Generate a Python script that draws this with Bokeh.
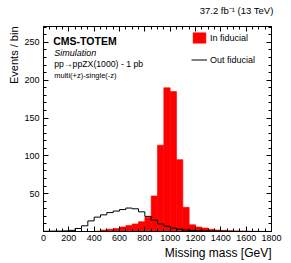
import numpy as np
from bokeh.plotting import figure
from bokeh.models import (Range1d, LinearAxis, FixedTicker, Label, Legend, LegendItem,
                          ColumnDataSource, Title, CustomLabelingPolicy)
from bokeh.embed import file_html
from bokeh.resources import INLINE

# ---------------- data ----------------
bin_width = 50
bin_low = list(range(0, 1800, 50))
in_fiducial = [0, 0, 0, 0, 0, 0, 0, 0, 0.5, 2, 3, 4, 6, 8, 10, 13, 19, 47, 114, 190,
               185, 95, 32, 9, 6, 4.5, 3, 2, 1.5, 1, 0.7, 0.5, 0.3, 0.2, 0.1, 0.1]
out_fiducial = [0.3, 0.5, 0.5, 0.8, 1.5, 4, 7.5, 14, 19, 22, 25, 27, 29, 31, 30, 26, 20,
                15, 10, 7, 4.5, 3, 2, 1.5, 1, 0.8, 0.6, 0.5, 0.4, 0.3, 0.2, 0.2, 0.1,
                0.1, 0, 0]
x_ticks = [0, 200, 400, 600, 800, 1000, 1200, 1400, 1600, 1800]
y_ticks = [50, 100, 150, 200, 250]
x_max = 1800
y_max = 271

FONT = "Liberation Sans"

# frame geometry in page pixels (used for text placement only)
FL, FR, FT, FB = 43, 276, 22, 231
def fx(px):
    return (px - FL) / (FR - FL) * x_max
def fy(py):
    return (FB - py) / (FB - FT) * y_max

p = figure(width=289, height=261, output_backend="svg", toolbar_location=None,
           x_range=Range1d(0, x_max), y_range=Range1d(0, y_max),
           min_border_left=FL, min_border_right=289 - FR, min_border_top=FT,
           min_border_bottom=261 - FB)
p.background_fill_color = "white"
p.border_fill_color = "white"
p.outline_line_color = "black"
p.outline_line_width = 1
p.xgrid.visible = False
p.ygrid.visible = False

left = np.array(bin_low, dtype=float)
right = left + bin_width
src = ColumnDataSource(dict(left=left, right=right, top=in_fiducial,
                            bottom=[0] * len(left)))
r_in = p.quad(left="left", right="right", top="top", bottom="bottom", source=src,
              fill_color="#ff0000", line_color="#ff0000", line_width=0.6)

edges = list(left) + [float(right[-1])]
vals = list(out_fiducial) + [out_fiducial[-1]]
r_out = p.step(x=edges, y=vals, mode="after", line_color="black", line_width=1)

hide_all = CustomLabelingPolicy(code="for (const i of indices) { indices.unset(i) }\nreturn indices")

# axes styling
def style_axis(ax, ticks, minor, labels=True):
    ax.ticker = FixedTicker(ticks=ticks, minor_ticks=minor)
    ax.major_tick_in = 5
    ax.major_tick_out = 0
    ax.minor_tick_in = 3
    ax.minor_tick_out = 0
    ax.axis_line_color = "black"
    ax.major_tick_line_color = "black"
    ax.minor_tick_line_color = "black"
    ax.major_label_text_font = FONT
    ax.major_label_text_font_size = "9px"
    ax.major_label_text_color = "black"
    if not labels:
        ax.major_label_policy = hide_all
        ax.major_label_standoff = 0

x_minor = list(range(0, 1801, 50))
y_minor = list(range(0, 271, 10))
style_axis(p.xaxis[0], x_ticks, x_minor)
p.xaxis[0].major_label_standoff = 3
style_axis(p.yaxis[0], y_ticks, y_minor)
p.yaxis[0].major_label_standoff = 4

top_ax = LinearAxis()
style_axis(top_ax, x_ticks, x_minor, labels=False)
p.add_layout(top_ax, "above")
right_ax = LinearAxis()
style_axis(right_ax, y_ticks, y_minor, labels=False)
p.add_layout(right_ax, "right")

# axis titles and luminosity text as side titles (outside the frame)
t_top = Title(text="37.2 fb\u207b\u00b9 (13 TeV)", align="right", text_font=FONT,
              text_font_size="9.5px", text_font_style="normal", standoff=4,
              offset=-2, text_color="black")
p.add_layout(t_top, "above")
t_x = Title(text="Missing mass [GeV]", align="right", text_font=FONT,
            text_font_size="12px", text_font_style="normal", standoff=0,
            text_color="black")
p.add_layout(t_x, "below")
t_y = Title(text="Events / bin", align="right", text_font=FONT,
            text_font_size="11px", text_font_style="normal", standoff=4,
            text_color="black")
p.add_layout(t_y, "left")

# legend
legend = Legend(items=[LegendItem(label="In fiducial", renderers=[r_in]),
                       LegendItem(label="Out fiducial", renderers=[r_out])],
                location=(148, 165), glyph_width=16, glyph_height=13,
                label_height=13, label_width=40, spacing=9, padding=0, margin=0,
                label_standoff=3, label_text_font=FONT, label_text_font_size="9px",
                label_text_color="black",
                border_line_color=None, background_fill_alpha=0)
p.add_layout(legend)

# texts inside the frame
def add_text(text, px, py, size, align="left", style="normal"):
    p.add_layout(Label(x=fx(px), y=fy(py), text=text, text_font=FONT,
                       text_font_size=size, text_font_style=style,
                       text_align=align, text_baseline="middle",
                       text_color="black"))

add_text("CMS-TOTEM", 53, 37, "10.5px", style="bold")
add_text("Simulation", 54, 49, "9px", style="italic")
add_text("pp\u2192ppZX(1000) - 1 pb", 54, 60, "8.7px")
add_text("multi(+z)-single(-z)", 54, 71.5, "7.5px")

open("out.html", "w").write(file_html(p, INLINE))
